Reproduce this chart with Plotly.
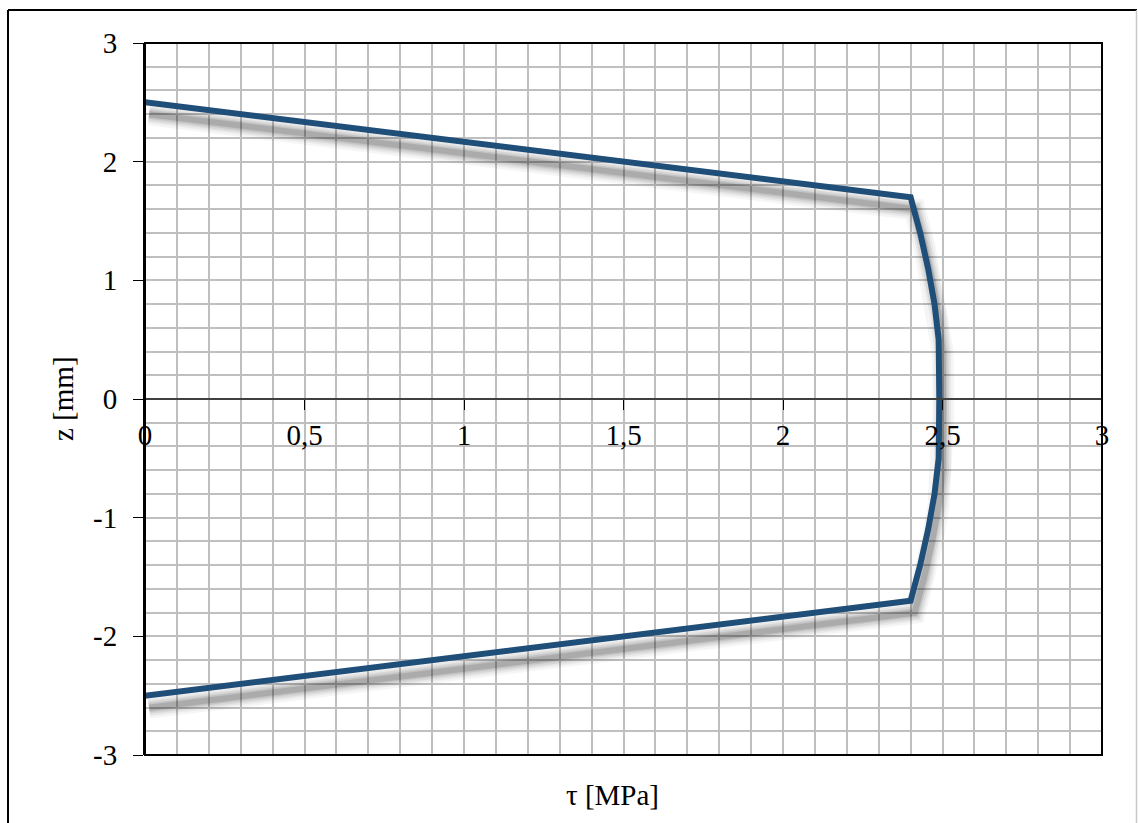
import plotly.graph_objects as go

# ---- data ----
z_mm = [2.5, 1.7, 1.4, 1.1, 0.8, 0.5, 0.0, -0.5, -0.8, -1.1, -1.4, -1.7, -2.5]
tau_mpa = [0.0, 2.40, 2.43, 2.455, 2.475, 2.488, 2.49, 2.488, 2.475, 2.455, 2.43, 2.40, 0.0]

x_tickvals = [0, 0.5, 1, 1.5, 2, 2.5, 3]
x_ticktext = ["0", "0,5", "1", "1,5", "2", "2,5", "3"]
y_tickvals = [-3, -2, -1, 0, 1, 2, 3]
y_ticktext = ["-3", "-2", "-1", "0", "1", "2", "3"]

x_title = "τ [MPa]"
y_title = "z [mm]"

W, H = 1138, 823
L, R, T, B = 145, 36, 43, 68
pw, ph = W - L - R, H - T - B
xrange_ = [0, 3]
yrange_ = [-3, 3]

# shadow offset (pixels -> data units)
sdx = 4 * (xrange_[1] - xrange_[0]) / pw
sdy = -12 * (yrange_[1] - yrange_[0]) / ph

FONT = "Liberation Serif"
FS = 29
line_color = "#1F4E79"
grid_color = "#BFBFBF"

fig = go.Figure()

# soft shadow layers
for w, a in [(22, 0.04), (17, 0.05), (13, 0.07), (9, 0.09), (6, 0.12)]:
    fig.add_trace(go.Scatter(
        x=[t + sdx for t in tau_mpa], y=[z + sdy for z in z_mm],
        mode="lines", line=dict(color=f"rgba(0,0,0,{a})", width=w),
        hoverinfo="skip", showlegend=False))

fig.add_trace(go.Scatter(
    x=tau_mpa, y=z_mm, mode="lines",
    line=dict(color=line_color, width=6), showlegend=False))

px = lambda p: (p - L) / pw
py = lambda p: (H - B - p) / ph

fig.update_layout(
    width=W, height=H,
    margin=dict(l=L, r=R, t=T, b=B),
    paper_bgcolor="white", plot_bgcolor="white",
    font=dict(family=FONT, size=FS, color="black"),
    xaxis=dict(
        range=xrange_, domain=[0, 1], anchor="free", position=0.5,
        tickvals=x_tickvals, ticktext=x_ticktext,
        ticks="outside", ticklen=10, tickwidth=1, tickcolor="black",
        showline=True, linecolor="#404040", linewidth=2,
        showgrid=True, gridcolor=grid_color, gridwidth=1.5,
        minor=dict(dtick=0.1, showgrid=True, gridcolor=grid_color, gridwidth=1.5, ticks=""),
        zeroline=False, tickfont=dict(family=FONT, size=FS),
    ),
    yaxis=dict(
        range=yrange_, domain=[0, 1],
        tickvals=y_tickvals, ticktext=y_ticktext,
        ticks="outside", ticklen=10, tickwidth=1, tickcolor="black",
        ticklabelstandoff=10,
        showline=True, linecolor="black", linewidth=2,
        showgrid=True, gridcolor=grid_color, gridwidth=1.5,
        minor=dict(dtick=0.2, showgrid=True, gridcolor=grid_color, gridwidth=1.5, ticks=""),
        zeroline=False, tickfont=dict(family=FONT, size=FS),
    ),
    shapes=[
        dict(type="rect", xref="x domain", yref="y domain", x0=0, x1=1, y0=0, y1=1,
             line=dict(color="black", width=2), layer="above"),
        dict(type="line", xref="paper", yref="paper",
             x0=px(8), x1=px(1137), y0=py(10), y1=py(10),
             line=dict(color="black", width=2), layer="above"),
        dict(type="line", xref="paper", yref="paper",
             x0=px(8), x1=px(8), y0=py(10), y1=py(840),
             line=dict(color="black", width=2), layer="above"),
        dict(type="line", xref="paper", yref="paper",
             x0=px(1136.5), x1=px(1136.5), y0=py(10), y1=py(840),
             line=dict(color="#C8C8C8", width=1.5), layer="above"),
    ],
    annotations=[
        dict(text=x_title, xref="paper", yref="paper",
             x=px(612), y=py(795), showarrow=False,
             xanchor="center", yanchor="middle", font=dict(family=FONT, size=FS)),
        dict(text=y_title, xref="paper", yref="paper",
             x=px(63), y=0.5, showarrow=False, textangle=-90,
             xanchor="center", yanchor="middle", font=dict(family=FONT, size=FS)),
    ],
)

fig.write_html("out.html")
